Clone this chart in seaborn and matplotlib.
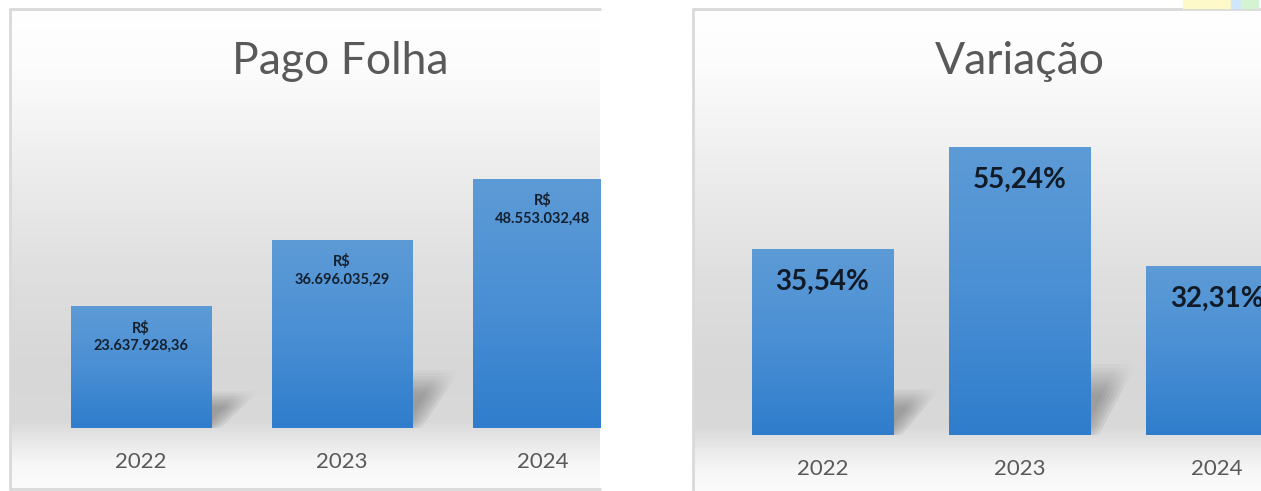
import matplotlib
matplotlib.use("Agg")
import matplotlib.pyplot as plt
import numpy as np
import pandas as pd
import seaborn as sns
from matplotlib.colors import LinearSegmentedColormap
from matplotlib.patches import Polygon, Rectangle

# data
years = ["2022", "2023", "2024"]
pago_folha = [23637928.36, 36696035.29, 48553032.48]
variacao = [35.54, 55.24, 32.31]

W, H = 1261, 491


def px_box(x0, y0, x1, y1):
    # pixel box (origin top-left) -> figure fraction [l, b, w, h]
    return [x0 / W, 1 - y1 / H, (x1 - x0) / W, (y1 - y0) / H]


def brl(v):
    s = f"{v:,.2f}".replace(",", "X").replace(".", ",").replace("X", ".")
    return "R$\n" + s


def pct(v):
    return f"{v:.2f}%".replace(".", ",")


sns.set_theme(style="white")
plt.rcParams['font.family'] = ['Lato', 'DejaVu Sans']

bg_cmap = LinearSegmentedColormap.from_list(
    "bg", [(0, "#ffffff"), (0.12, "#fcfcfc"), (0.3, "#efefef"), (0.55, "#dfdfdf"),
           (0.75, "#d7d7d7"), (0.86, "#d9d9d9"), (0.91, "#ebebeb"), (0.95, "#f7f7f7"), (1, "#fbfbfb")])
bar_cmap = LinearSegmentedColormap.from_list("bar", ["#2f7dcc", "#4a8fd4", "#5d9bd6"])
grad = np.linspace(0, 1, 256).reshape(-1, 1)

fig = plt.figure(figsize=(W / 100, H / 100), dpi=100)


def panel_bg(x0, y0, x1, y1):
    bg = fig.add_axes(px_box(x0, y0, x1, y1), zorder=0)
    bg.imshow(grad, cmap=bg_cmap, aspect='auto', extent=[0, 1, 0, 1], origin='upper')
    bg.set_xlim(0, 1)
    bg.set_ylim(0, 1)
    bg.axis('off')
    kw = dict(color="#d9d9d9", lw=2, transform=bg.transAxes, clip_on=False)
    bg.plot([0, 0], [0, 1], **kw)
    bg.plot([0, 1], [1, 1], **kw)
    bg.plot([0, 1], [0, 0], **kw)


def draw_bars(ax, values, width, shadow_frac, shadow_shift):
    df = pd.DataFrame({"ano": years, "valor": values})
    sns.barplot(data=df, x="ano", y="valor", ax=ax, width=width, color="#4a8fd4",
                saturation=1, zorder=3)
    for p in ax.patches:
        x0, w, h = p.get_x(), p.get_width(), p.get_height()
        # soft cast shadow behind the bar: a few offset copies layered to blur it
        hs = h * shadow_frac
        for k in range(6):
            d = (k - 2.5) * 0.018
            poly = Polygon([(x0, 0), (x0 + w + d, 0), (x0 + w + d + shadow_shift, hs),
                            (x0 + shadow_shift, hs)],
                           closed=True, facecolor="none", edgecolor="none")
            ax.add_patch(poly)
            rgba = np.zeros((128, 1, 4))
            rgba[..., :3] = 0.4
            t = np.linspace(0, 1, 128)
            rgba[:, 0, 3] = 0.11 * np.clip(1.6 * np.sin(np.pi * (0.15 + 0.85 * t)) * (1 - t) ** 0.6, 0, 1)
            sh = ax.imshow(rgba, extent=[x0, x0 + w + shadow_shift + 0.1, 0, hs], aspect='auto',
                           origin='lower', zorder=1, interpolation='bilinear')
            sh.set_clip_path(poly)
            sh.set_clip_box(ax.bbox)
        # vertical gradient fill of the bar
        im = ax.imshow(grad, extent=[x0, x0 + w, 0, h], cmap=bar_cmap, aspect='auto',
                       origin='lower', zorder=3)
        im.set_clip_path(p)
        im.set_clip_box(ax.bbox)
        p.set_facecolor("none")
        p.set_edgecolor("none")


def style_axes(ax, xmax, ymax, pad):
    ax.set_xlim(-0.5, xmax)
    ax.set_ylim(0, ymax)
    ax.set_facecolor("none")
    for s in ax.spines.values():
        s.set_visible(False)
    ax.set_yticks([])
    ax.set_xlabel("")
    ax.set_ylabel("")
    ax.tick_params(axis='x', length=0, pad=pad, labelsize=16, labelcolor="#595959")


# ---- left panel: Pago Folha ----
panel_bg(10, 9, 600, 489)
ax1 = fig.add_axes(px_box(40.5, 130, 600, 428), zorder=2)
draw_bars(ax1, pago_folha, 0.70, 0.32, 0.2)
style_axes(ax1, -0.5 + (600 - 40.5) / 201, (428 - 130) / 5.12 * 1e6, 17)
for i, v in enumerate(pago_folha):
    ax1.annotate(brl(v), xy=(i, v), xytext=(0, -10), textcoords='offset points',
                 ha='center', va='top', fontsize=10.5, fontweight='bold', color="#14202e",
                 linespacing=1.3, zorder=5)
fig.text(340 / W, 1 - 62 / H, "Pago Folha", ha='center', va='center', fontsize=32,
         color="#595959")

# ---- right panel: Variação ----
panel_bg(693, 9, 1262, 496)
ax2 = fig.add_axes(px_box(724, 100, 1261, 435), zorder=2)
draw_bars(ax2, variacao, 0.716, 0.26, 0.2)
style_axes(ax2, -0.5 + (1261 - 724) / 197, (435 - 100) / 5.21, 17)
for i, v in enumerate(variacao):
    ax2.annotate(pct(v), xy=(i, v), xytext=(0, -14), textcoords='offset points',
                 ha='center', va='top', fontsize=20, fontweight='bold', color="#111a27",
                 zorder=5)
fig.text(1020 / W, 1 - 62 / H, "Variação", ha='center', va='center', fontsize=32,
         color="#595959")

# small coloured strip at the top-right corner
for x0, x1, c in [(1183, 1231, "#fdf9c8"), (1231, 1241, "#cfe6fb"), (1241, 1258, "#d3f3d3")]:
    fig.add_artist(Rectangle((x0 / W, 1 - 8 / H), (x1 - x0) / W, 8 / H,
                             transform=fig.transFigure, color=c, zorder=10))

fig.savefig("out.png", dpi=100, facecolor="white")
